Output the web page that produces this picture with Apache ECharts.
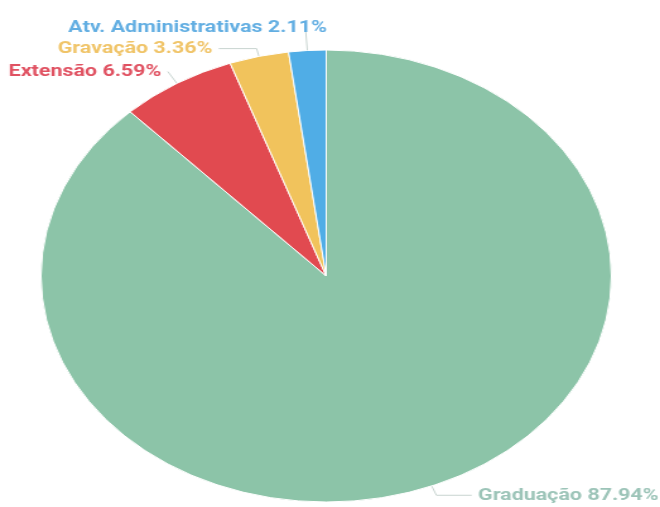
<!DOCTYPE html>
<html>
<head>
<meta charset="utf-8">
<script src="https://cdn.jsdelivr.net/npm/echarts@6/dist/echarts.min.js"></script>
<style>
html,body{margin:0;padding:0;background:#fff;overflow:hidden;}
#wrap{width:660px;height:507px;overflow:hidden;position:relative;}
#chart{width:560px;height:507px;transform:scaleX(1.262);transform-origin:0 0;}
</style>
</head>
<body>
<div id="wrap"><div id="chart"></div></div>
<script>
const categories = ['Graduação', 'Extensão', 'Gravação', 'Atv. Administrativas'];
const values = [87.94, 6.59, 3.36, 2.11];
const colors = ['#8cc4a8', '#e14a50', '#f1c35c', '#50ade6'];
const labelColors = ['#9cc4b8', '#e05262', '#f0c468', '#62aee2'];
const lineLengths = [10, 14, 8, 23];
const lineLengths2 = [28, 0, 30, 0];

const chart = echarts.init(document.getElementById('chart'), null, {renderer: 'canvas'});
chart.setOption({
  animation: false,
  series: [{
    type: 'pie',
    center: [258.5, 276],
    radius: 226,
    startAngle: 90,
    clockwise: true,
    avoidLabelOverlap: true,
    itemStyle: {borderColor: '#fff', borderWidth: 1},
    label: {
      show: true,
      overflow: 'none',
      formatter: p => p.name + ' ' + p.value.toFixed(2) + '%',
      fontFamily: 'Roboto, Arial, sans-serif',
      fontWeight: 'bold',
      fontSize: 17
    },
    labelLayout: p => (p.dataIndex === 3 ? {dx: 22} : {}),
    labelLine: {show: true, lineStyle: {width: 1}},
    data: categories.map((c, i) => ({
      name: c,
      value: values[i],
      itemStyle: {color: colors[i]},
      label: {color: labelColors[i]},
      labelLine: {length: lineLengths[i], length2: lineLengths2[i], lineStyle: {color: '#c8d4d0'}}
    }))
  }]
});
</script>
</body>
</html>
